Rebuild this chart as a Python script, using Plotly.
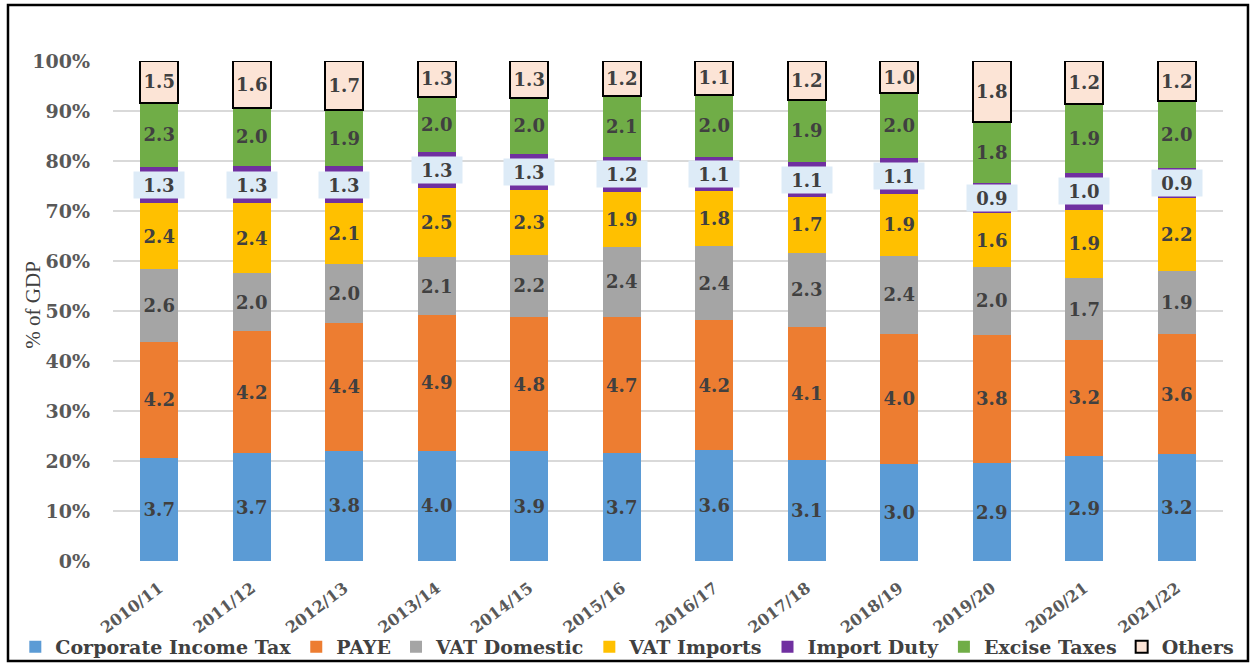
import plotly.graph_objects as go

years = ["2010/11", "2011/12", "2012/13", "2013/14", "2014/15", "2015/16",
         "2016/17", "2017/18", "2018/19", "2019/20", "2020/21", "2021/22"]
cit = [3.7, 3.7, 3.8, 4.0, 3.9, 3.7, 3.6, 3.1, 3.0, 2.9, 2.9, 3.2]
paye = [4.2, 4.2, 4.4, 4.9, 4.8, 4.7, 4.2, 4.1, 4.0, 3.8, 3.2, 3.6]
vat_dom = [2.6, 2.0, 2.0, 2.1, 2.2, 2.4, 2.4, 2.3, 2.4, 2.0, 1.7, 1.9]
vat_imp = [2.4, 2.4, 2.1, 2.5, 2.3, 1.9, 1.8, 1.7, 1.9, 1.6, 1.9, 2.2]
import_duty = [1.3, 1.3, 1.3, 1.3, 1.3, 1.2, 1.1, 1.1, 1.1, 0.9, 1.0, 0.9]
excise = [2.3, 2.0, 1.9, 2.0, 2.0, 2.1, 2.0, 1.9, 2.0, 1.8, 1.9, 2.0]
others = [1.5, 1.6, 1.7, 1.3, 1.3, 1.2, 1.1, 1.2, 1.0, 1.8, 1.2, 1.2]

series = [
    ("Corporate Income Tax", cit, "#5B9BD5"),
    ("PAYE", paye, "#ED7D31"),
    ("VAT Domestic", vat_dom, "#A5A5A5"),
    ("VAT Imports", vat_imp, "#FFC000"),
    ("Import Duty", import_duty, "#7030A0"),
    ("Excise Taxes", excise, "#70AD47"),
    ("Others", others, "#FCE4D6"),
]

totals = [sum(s[1][i] for s in series) for i in range(len(years))]

FONT = "DejaVu Serif"
TXT = "#404040"

fig = go.Figure()
for name, vals, color in series:
    shares = [v / t * 100 for v, t in zip(vals, totals)]
    is_id = name == "Import Duty"
    fig.add_trace(go.Bar(
        name=name, x=years, y=shares,
        marker=dict(color=color,
                    line=dict(color="black" if name == "Others" else color,
                              width=2 if name == "Others" else 0)),
        text=None if is_id else [f"{v:.1f}" for v in vals],
        textposition="inside", insidetextanchor="middle",
        constraintext="none",
        textfont=dict(family=FONT, size=18, color=TXT, weight="bold"),
        hoverinfo="skip",
    ))

annotations = []
for i, yr in enumerate(years):
    below = cit[i] + paye[i] + vat_dom[i] + vat_imp[i]
    mid = (below + import_duty[i] / 2) / totals[i] * 100
    annotations.append(dict(
        x=yr, y=mid, xref="x", yref="y", text=f"<b>{import_duty[i]:.1f}</b>",
        showarrow=False, bgcolor="#DDEBF7", width=48, height=24,
        font=dict(family=FONT, size=18, color=TXT)))

annotations.append(dict(
    x=-0.085, y=0.512, xref="paper", yref="paper", text="% of GDP",
    textangle=-90, showarrow=False,
    font=dict(family="Liberation Serif", size=21, color=TXT)))

fig.update_layout(
    barmode="stack", bargap=0.59,
    width=1254, height=663,
    margin=dict(l=113, r=31, t=61, b=102, autoexpand=False),
    paper_bgcolor="white", plot_bgcolor="white",
    showlegend=True,
    legend=dict(orientation="h", x=-0.088, xanchor="left", y=-0.172, yanchor="middle",
                font=dict(family=FONT, size=19, color=TXT, weight="bold"),
                bgcolor="rgba(0,0,0,0)",
                traceorder="normal", itemwidth=30),
    annotations=annotations,
    shapes=[dict(type="rect", xref="paper", yref="paper",
                 x0=-0.0946, x1=1.0225, y0=-0.2, y1=1.112,
                 line=dict(color="black", width=2.5), fillcolor="rgba(0,0,0,0)",
                 layer="below")],
    xaxis=dict(tickangle=-37, showgrid=False, showline=False, ticks="",
               ticklabelstandoff=14,
               tickfont=dict(family=FONT, size=16, color="#595959", weight="bold")),
    yaxis=dict(range=[0, 100], dtick=10, ticksuffix="%", showgrid=True,
               gridcolor="#D9D9D9", gridwidth=1.5, zeroline=False,
               ticklabelstandoff=22,
               tickfont=dict(family=FONT, size=19, color="#595959", weight="bold")),
)

fig.write_html("out.html")
